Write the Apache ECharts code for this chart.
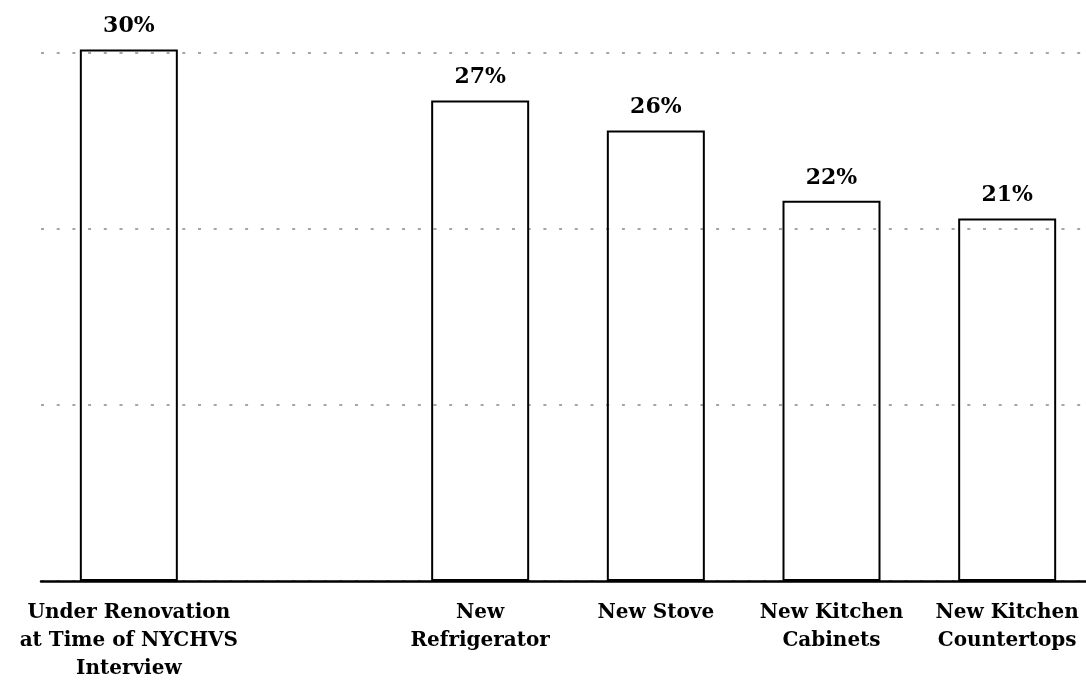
<!DOCTYPE html>
<html>
<head>
<meta charset="utf-8">
<script src="https://cdn.jsdelivr.net/npm/echarts@6/dist/echarts.min.js"></script>
<style>
  html, body { margin: 0; padding: 0; background: #fff; }
  #chart { width: 1086px; height: 683px; }
</style>
</head>
<body>
<div id="chart"></div>
<script>
// categories (the empty one is the gap after the first bar)
var categories = [
  'Under Renovation\nat Time of NYCHVS\nInterview',
  '',
  'New\nRefrigerator',
  'New Stove',
  'New Kitchen\nCabinets',
  'New Kitchen\nCountertops'
];
// share of units (labels show rounded values)
var shares = [30.2, null, 27.3, 25.6, 21.6, 20.6];
var yTicks = [0, 10, 20, 30];

var fontFamily = '"DejaVu Serif", serif';

var myChart = echarts.init(document.getElementById('chart'));
var option = {
  animation: false,
  grid: {
    left: 41,
    top: 53,
    bottom: 102,
    width: 1054,
    containLabel: false,
    outerBoundsMode: 'none'
  },
  xAxis: {
    type: 'category',
    data: categories,
    axisLine: { lineStyle: { color: '#000', width: 2.5 } },
    axisTick: { show: false },
    axisLabel: {
      interval: 0,
      margin: 18,
      color: '#000',
      fontFamily: fontFamily,
      fontWeight: 'bold',
      fontSize: 20,
      lineHeight: 28
    }
  },
  yAxis: {
    type: 'value',
    min: yTicks[0],
    max: yTicks[yTicks.length - 1],
    interval: 10,
    axisLine: { show: false },
    axisTick: { show: false },
    axisLabel: { show: false },
    splitLine: {
      lineStyle: {
        color: '#888',
        width: 1.5,
        type: [3, 12.7]
      }
    }
  },
  series: [{
    type: 'bar',
    data: shares,
    barWidth: 98,
    clip: false,
    z: 1,
    itemStyle: {
      color: 'rgba(255,255,255,0)',
      borderColor: '#000',
      borderWidth: 2
    },
    label: {
      show: true,
      position: 'top',
      distance: 12,
      color: '#000',
      fontFamily: fontFamily,
      fontWeight: 'bold',
      fontSize: 22,
      formatter: function (p) {
        return Math.round(p.value) + '%';
      }
    }
  }]
};
myChart.setOption(option);
</script>
</body>
</html>
